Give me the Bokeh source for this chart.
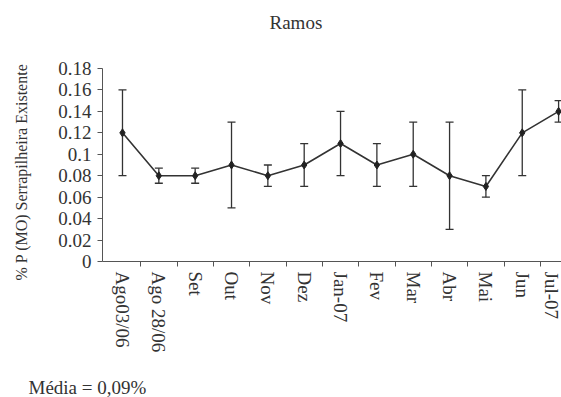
from bokeh.plotting import figure
from bokeh.models import (ColumnDataSource, Range1d, FixedTicker, CustomJSTickFormatter,
                          Whisker, TeeHead, Title)
from bokeh.embed import file_html
from bokeh.resources import INLINE

# Monthly sampling dates and the measured means with their error half-widths
months = ["Ago03/06", "Ago 28/06", "Set", "Out", "Nov", "Dez", "Jan-07",
          "Fev", "Mar", "Abr", "Mai", "Jun", "Jul-07"]
mean_p = [0.12, 0.08, 0.08, 0.09, 0.08, 0.09, 0.11, 0.09, 0.10, 0.08, 0.07, 0.12, 0.14]
err_p = [0.04, 0.007, 0.007, 0.04, 0.01, 0.02, 0.03, 0.02, 0.03, 0.05, 0.01, 0.04, 0.01]
y_ticks = [0, 0.02, 0.04, 0.06, 0.08, 0.10, 0.12, 0.14, 0.16, 0.18]

title_text = "Ramos"
y_label = "% P (MO) Serrapilheira Existente"
note_text = "Média = 0,09%"

SERIF = "Liberation Serif"
INK = "#333333"

idx = list(range(len(months)))
src = ColumnDataSource(dict(
    x=idx,
    y=mean_p,
    lower=[m - e for m, e in zip(mean_p, err_p)],
    upper=[m + e for m, e in zip(mean_p, err_p)],
))

p = figure(width=561, height=397, output_backend="svg", toolbar_location=None,
           x_range=Range1d(-0.55, 12.08), y_range=Range1d(0, 0.18),
           min_border_left=102, min_border_right=0, min_border_top=68,
           min_border_bottom=136)
p.outline_line_color = None
p.xgrid.visible = False
p.ygrid.visible = False
p.background_fill_color = "white"
p.border_fill_color = "white"

# error bars with flat caps
p.add_layout(Whisker(source=src, base="x", lower="lower", upper="upper",
                     line_color=INK, line_width=1.3,
                     upper_head=TeeHead(size=8, line_color=INK, line_width=1.3),
                     lower_head=TeeHead(size=8, line_color=INK, line_width=1.3)))
p.line("x", "y", source=src, line_color=INK, line_width=1.6)
p.scatter("x", "y", source=src, marker="diamond", size=8, color="#222222")

# x axis: labels at month centres, short ticks on the boundaries between months
xa = p.xaxis[0]
xa.ticker = FixedTicker(ticks=idx, minor_ticks=[i + 0.5 for i in idx[:-1]])
xa.major_label_overrides = {i: m for i, m in enumerate(months)}
xa.major_label_orientation = "vertical"
xa.major_tick_line_color = None
xa.major_tick_out = 4
xa.major_tick_in = 0
xa.minor_tick_out = 5
xa.minor_tick_in = 0
xa.minor_tick_line_color = "#555555"
xa.major_label_standoff = 5
xa.axis_line_color = "#555555"
xa.major_label_text_font = SERIF
xa.major_label_text_font_size = "19px"
xa.major_label_text_color = INK

ya = p.yaxis[0]
ya.ticker = FixedTicker(ticks=y_ticks, minor_ticks=[])
ya.formatter = CustomJSTickFormatter(code="return String(parseFloat(tick.toFixed(2)));")
ya.major_tick_out = 5
ya.major_tick_in = 0
ya.major_tick_line_color = "#555555"
ya.axis_line_color = "#555555"
ya.major_label_standoff = 6
ya.major_label_text_font = SERIF
ya.major_label_text_font_size = "19px"
ya.major_label_text_color = INK


def gap(size, standoff):
    """Blank panel entry used to push the next title away from the frame."""
    return Title(text=" ", text_font=SERIF, text_font_size=size,
                 text_color="white", standoff=standoff)


def caption(text, size, **kw):
    return Title(text=text, text_font=SERIF, text_font_size=size,
                 text_font_style="normal", text_color=INK, standoff=0, **kw)


# heading above the plot
p.add_layout(gap("19px", 13), "above")
p.add_layout(caption(title_text, "19px", align="left", offset=167), "above")

# vertical axis title
p.add_layout(gap("16px", 7), "left")
p.add_layout(caption(y_label, "16px", align="left", offset=-19), "left")

# mean note under the month labels
p.add_layout(gap("16px", 0), "below")
p.add_layout(caption(note_text, "19px", align="left", offset=-74), "below")

open("out.html", "w").write(file_html(p, INLINE))
